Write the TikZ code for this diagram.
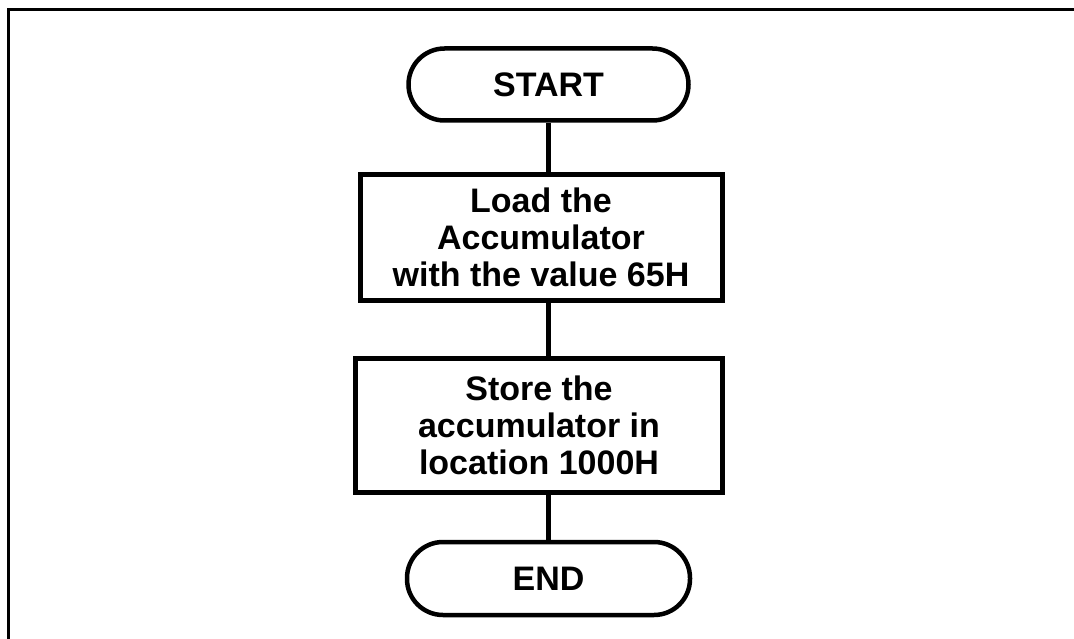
\documentclass[tikz,border=0pt]{standalone}
\usepackage{fontspec}
\setmainfont{Liberation Sans}
\begin{document}
\begin{tikzpicture}[x=1pt,y=-1pt,
  lbl/.style={font=\fontsize{34}{37}\selectfont\bfseries, align=center, inner sep=0pt},
  term/.style={lbl, draw, line width=4.5pt, rounded corners=36pt},
  procbox/.style={lbl, draw, line width=5pt},
  link/.style={line width=5pt}]
\useasboundingbox (0,0) rectangle (1074,639);
% frame (only top and left edges fall inside the page)
\draw[line width=3pt] (8,639) -- (8,10) -- (1074,10);

\node[term, minimum width=280pt, minimum height=72pt] (start) at (548.5,84.5) {START};
\node[procbox, minimum width=362pt, minimum height=126pt] (load) at (541,237.5)
  {Load the\\Accumulator\\with the value 65H};
\node[procbox, minimum width=367pt, minimum height=134pt] (store) at (539,425)
  {Store the\\accumulator in\\location 1000H};
\node[term, minimum width=283pt, minimum height=73pt] (end) at (548.5,578.5) {END};

\draw[link] (start.south) -- (start.south |- load.north);
\draw[link] (start.south |- load.south) -- (start.south |- store.north);
\draw[link] (start.south |- store.south) -- (end.north);
\end{tikzpicture}
\end{document}
